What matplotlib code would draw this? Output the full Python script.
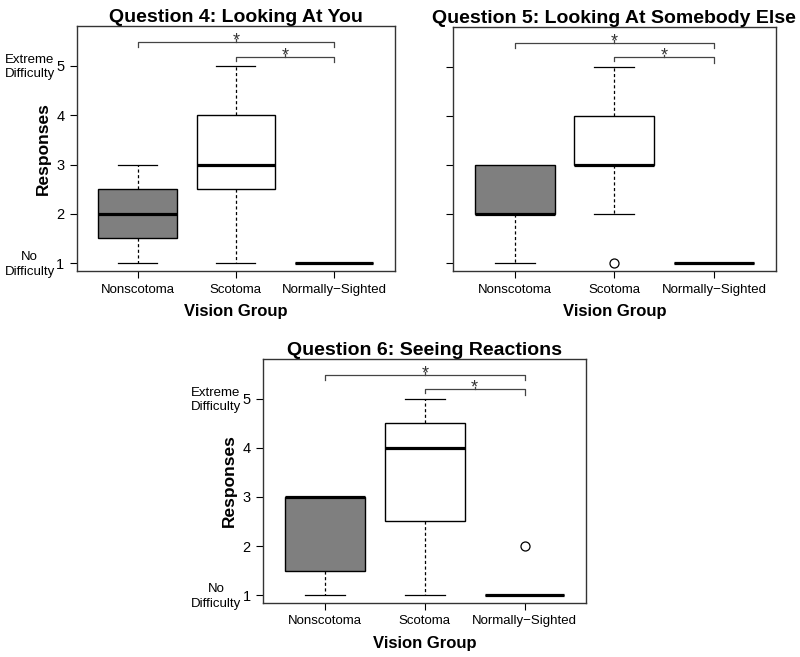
import matplotlib.pyplot as plt

plt.rcParams['font.family'] = ['Liberation Sans', 'DejaVu Sans']

groups = ["Nonscotoma", "Scotoma", "Normally\u2212Sighted"]
fills = ["#7f7f7f", "white", "white"]

titles = ["Question 4: Looking At You",
          "Question 5: Looking At Somebody Else",
          "Question 6: Seeing Reactions"]

# per panel, per group
q4_whislo = [1, 1, 1]
q4_q1 = [1.5, 2.5, 1]
q4_med = [2, 3, 1]
q4_q3 = [2.5, 4, 1]
q4_whishi = [3, 5, 1]
q4_fliers = [[], [], []]

q5_whislo = [1, 2, 1]
q5_q1 = [2, 3, 1]
q5_med = [2, 3, 1]
q5_q3 = [3, 4, 1]
q5_whishi = [3, 5, 1]
q5_fliers = [[], [1], []]

q6_whislo = [1, 1, 1]
q6_q1 = [1.5, 2.5, 1]
q6_med = [3, 4, 1]
q6_q3 = [3, 4.5, 1]
q6_whishi = [3, 5, 1]
q6_fliers = [[], [], [2]]

panels = [
    (q4_whislo, q4_q1, q4_med, q4_q3, q4_whishi, q4_fliers),
    (q5_whislo, q5_q1, q5_med, q5_q3, q5_whishi, q5_fliers),
    (q6_whislo, q6_q1, q6_med, q6_q3, q6_whishi, q6_fliers),
]

# significance brackets: (from group, to group, height)
brackets = [(1, 3, 5.49), (2, 3, 5.19)]

fig = plt.figure(figsize=(8, 6.57), dpi=100)
rects = [
    [0.096, 0.5875, 0.3975, 0.3729],
    [0.566, 0.5875, 0.404, 0.3715],
    [0.329, 0.0822, 0.404, 0.3714],
]

for i, (lo, q1, med, q3, hi, fl) in enumerate(panels):
    ax = fig.add_axes(rects[i])
    stats = []
    for j in range(3):
        stats.append(dict(whislo=lo[j], q1=q1[j], med=med[j], q3=q3[j],
                          whishi=hi[j], fliers=fl[j]))
    bp = ax.bxp(stats, positions=[1, 2, 3], widths=0.8, patch_artist=True,
                showfliers=True,
                boxprops=dict(edgecolor="black", linewidth=1),
                medianprops=dict(color="black", linewidth=2.3, solid_capstyle="butt"),
                whiskerprops=dict(color="black", linewidth=0.9, linestyle=(0, (2.5, 2))),
                capprops=dict(color="black", linewidth=0.9),
                capwidths=0.4,
                flierprops=dict(marker="o", markerfacecolor="white",
                                markeredgecolor="black", markersize=6.5,
                                markeredgewidth=0.9))
    for patch, c in zip(bp["boxes"], fills):
        patch.set_facecolor(c)
    # degenerate boxes: drop zero-length whiskers and caps
    for j in range(3):
        if lo[j] == q1[j]:
            bp["whiskers"][2 * j].set_visible(False)
            bp["caps"][2 * j].set_visible(False)
        if hi[j] == q3[j]:
            bp["whiskers"][2 * j + 1].set_visible(False)
            bp["caps"][2 * j + 1].set_visible(False)

    for a, b, h in brackets:
        drop_a = 0.1 if a == 1 else 0.08
        drop_b = 0.1 if a == 1 else 0.12
        ax.plot([a, a, b, b], [h - drop_a, h, h, h - drop_b],
                color="#444444", linewidth=0.9)
        mid = (a + b) / 2
        ax.plot([mid, mid], [h, h + 0.05], color="#444444", linewidth=0.9)
        # "*" sits high in its line, so anchor it at the baseline
        ax.text(mid, h - 0.07, "*", ha="center", va="baseline",
                fontsize=13, color="#333333")

    ax.set_xlim(0.38, 3.62)
    ax.set_ylim(0.84, 5.81)
    ax.set_xticks([1, 2, 3])
    ax.set_xticklabels(groups, fontsize=9.5)
    ax.set_yticks([1, 2, 3, 4, 5])
    ax.tick_params(direction="out", length=5, width=0.8, pad=4)
    for s in ax.spines.values():
        s.set_linewidth(1)
        s.set_color("#333333")
    ax.set_title(titles[i], fontsize=14, fontweight="bold", pad=3)
    ax.set_xlabel("Vision Group", fontsize=12, fontweight="bold", labelpad=6)
    if i == 1:
        ax.set_yticklabels([])
    else:
        ax.set_yticklabels(["1", "2", "3", "4", "5"], fontsize=10.5)
        ax.set_ylabel("Responses", fontsize=12.5, fontweight="bold", labelpad=4)
        for yv, lab in [(5, "Extreme\nDifficulty"), (1, "No\nDifficulty")]:
            ax.annotate(lab, xy=(0, yv), xycoords=("axes fraction", "data"),
                        xytext=(-34, -1), textcoords="offset points",
                        ha="center", va="center", multialignment="center",
                        fontsize=9.5, linespacing=1.25)

fig.savefig("out.png", dpi=100)
